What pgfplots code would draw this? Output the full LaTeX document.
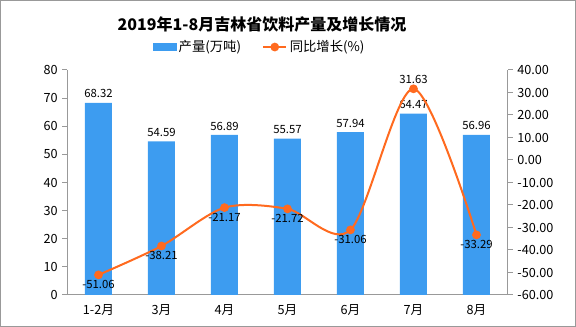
\documentclass[border=0pt]{standalone}
\usepackage{pgfplots}
\pgfplotsset{compat=1.18}
\usepackage{fontspec}
\setmainfont{Noto Sans CJK SC}
\definecolor{barblue}{HTML}{3D9CF0}
\definecolor{lineorange}{HTML}{FF6A1F}
\definecolor{axgray}{HTML}{999999}
\begin{document}
\begin{tikzpicture}[x=1pt,y=1pt]
\useasboundingbox (0,0) rectangle (432,245.25);
\draw[axgray, line width=0.75pt] (0.375,0.375) rectangle (431.625,244.875);
\node[font=\bfseries\fontsize{12}{14}\selectfont] at (196.5,226.5) {2019年1-8月吉林省饮料产量及增长情况};
\begin{axis}[
  at={(50.25pt,24pt)}, anchor=south west,
  width=330.75pt, height=168.75pt, scale only axis,
  xmin=-0.5, xmax=6.5, ymin=0, ymax=80,
  ytick={0,10,...,80},
  xtick={0,...,6},
  xticklabels={1-2月,3月,4月,5月,6月,7月,8月},
  minor xtick={-0.5,0.5,...,6.5},
  axis y line*=left, axis x line*=bottom,
  axis line style={axgray, line width=0.75pt},
  tick align=outside,
  major tick length=3.5pt, minor tick length=3.5pt,
  xtick style={draw=none},
  minor x tick style={axgray, line width=0.75pt},
  ytick style={axgray, line width=0.75pt},
  tick label style={font=\fontsize{9.5}{10}\selectfont},
  /pgf/number format/assume math mode=true,
  ybar, bar width=20.25pt,
  nodes near coords,
  every node near coord/.append style={font=\fontsize{8.5}{10}\selectfont, black, /pgf/number format/fixed, /pgf/number format/zerofill, /pgf/number format/precision=2},
]
\addplot[fill=barblue, draw=none] coordinates {(0,68.32) (1,54.59) (2,56.89) (3,55.57) (4,57.94) (5,64.47) (6,56.96)};
\end{axis}
\begin{axis}[
  at={(50.25pt,24pt)}, anchor=south west,
  width=330.75pt, height=168.75pt, scale only axis,
  xmin=-0.5, xmax=6.5, ymin=-60, ymax=40,
  ytick={-60,-50,...,40},
  axis y line*=right, axis x line=none,
  axis line style={axgray, line width=0.75pt},
  tick align=outside, major tick length=3.5pt,
  ytick style={axgray, line width=0.75pt},
  tick label style={font=\fontsize{9.5}{10}\selectfont},
  /pgf/number format/assume math mode=true,
  yticklabel style={/pgf/number format/fixed, /pgf/number format/zerofill, /pgf/number format/precision=2},
  legend style={at={(rel axis cs:0.4376,1.102)}, anchor=center, draw=none, fill=none, font=\fontsize{10}{11}\selectfont, legend columns=2, /tikz/every even column/.append style={column sep=14pt}},
  nodes near coords,
  every node near coord/.append style={font=\fontsize{8.5}{10}\selectfont, black, /pgf/number format/fixed, /pgf/number format/zerofill, /pgf/number format/precision=2},
]
\addlegendimage{legend image code/.code={\fill[barblue] (0pt,-2.5pt) rectangle (17pt,2.5pt);}}
\addlegendentry{产量(万吨)}
\addplot[lineorange, line width=1.5pt, smooth, mark=*, mark size=2.5pt, mark options={fill=lineorange}] coordinates {(0,-51.06) (1,-38.21) (2,-21.17) (3,-21.72) (4,-31.06) (5,31.63) (6,-33.29)};
\addlegendentry{同比增长(\%)}
\end{axis}
\end{tikzpicture}
\end{document}
